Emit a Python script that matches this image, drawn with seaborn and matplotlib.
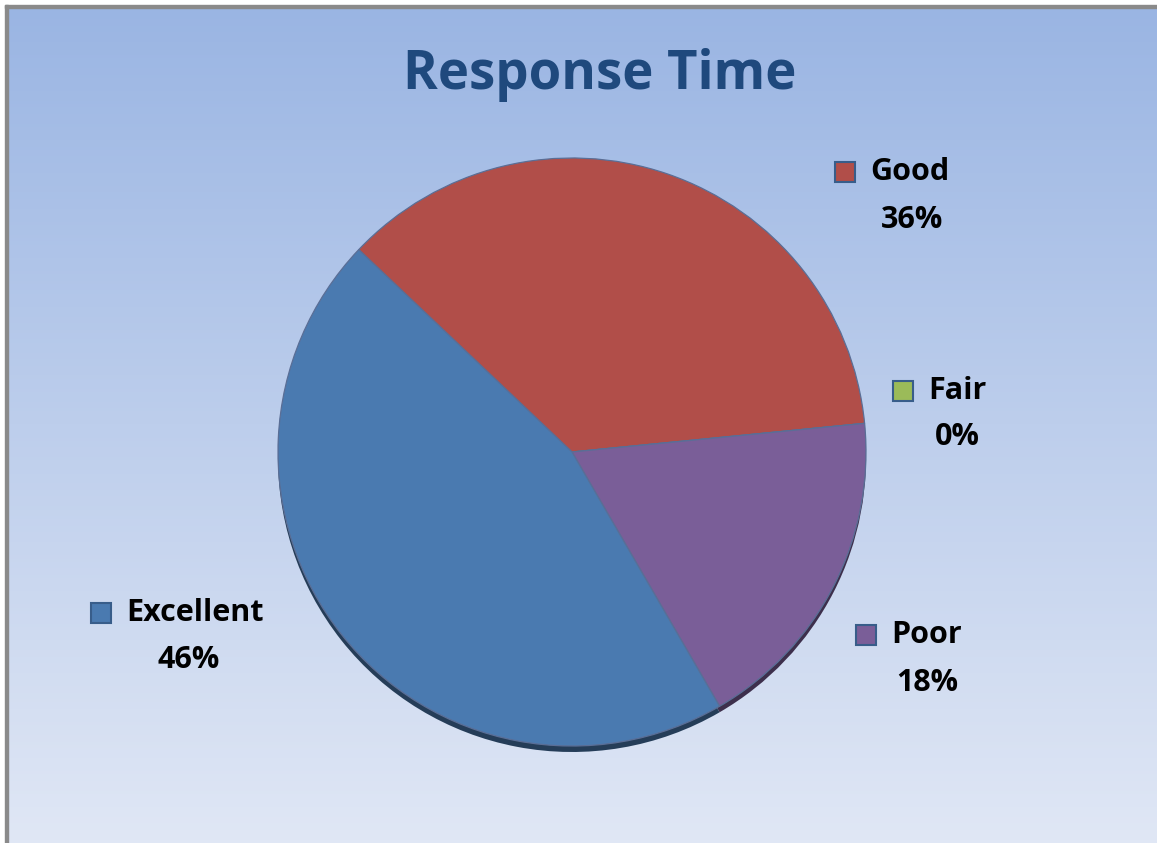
import numpy as np
import matplotlib.pyplot as plt
import matplotlib.colors as mcolors
from matplotlib.patches import Rectangle
import seaborn as sns

categories = ['Good', 'Fair', 'Poor', 'Excellent']
values = [36.4, 0, 18.2, 45.5]
pct_labels = ['36%', '0%', '18%', '46%']
colors = ['#B14E49', '#9BBB59', '#7A5E98', '#4A7AB0']

sns.set_style('white')
plt.rcParams['font.family'] = ['Open Sans', 'DejaVu Sans']

W, H = 1157, 843
fig = plt.figure(figsize=(W / 100, H / 100), dpi=100)
ax = fig.add_axes([0, 0, 1, 1])

# gradient background
top = np.array(mcolors.to_rgb('#9AB5E3'))
bot = np.array(mcolors.to_rgb('#E0E7F5'))
t = np.linspace(0, 1, 256)[:, None]
grad = (top * (1 - t) + bot * t)[:, None, :]
ax.imshow(grad, extent=[7, W, 0, H - 6], aspect='auto', zorder=0)
ax.add_patch(Rectangle((5, 0), 3, H - 5, color='#8A8A8A', zorder=1))
ax.add_patch(Rectangle((5, H - 8), W, 3, color='#8A8A8A', zorder=1))

cx, cy, r = 572, H - 452, 294

# dark rim underneath for a bit of depth
dark = [tuple(np.array(mcolors.to_rgb(c)) * 0.5) for c in colors]
ax.pie(values, colors=dark, startangle=136.5, counterclock=False,
       center=(cx, cy - 6), radius=r, frame=True,
       wedgeprops=dict(linewidth=0, zorder=2))
wedges, _ = ax.pie(values, colors=colors, startangle=136.5, counterclock=False,
                   center=(cx, cy), radius=r, frame=True,
                   wedgeprops=dict(linewidth=0.9, edgecolor='#5a6e96', zorder=3))
ax.set_xlim(0, W)
ax.set_ylim(0, H)
ax.axis('off')

# label layout: (square x, name y, percent x, percent y)
label_pos = {
    'Good': (845, 172, 912, 220),
    'Fair': (903, 391, 957, 437),
    'Poor': (866, 635, 927, 683),
    'Excellent': (101, 613, 189, 660),
}
for name, pct, col in zip(categories, pct_labels, colors):
    sx, ny, px, py = label_pos[name]
    ax.add_patch(Rectangle((sx - 10, H - ny - 10), 20, 20, facecolor=col,
                           edgecolor='#385D8A', linewidth=1.5, zorder=5))
    ax.text(sx + 25, H - ny, name, fontsize=22, fontweight='bold',
            ha='left', va='center', color='black', zorder=5)
    ax.text(px, H - py, pct, fontsize=22, fontweight='bold',
            ha='center', va='center', color='black', zorder=5)

ax.text(600, H - 75, 'Response Time', fontsize=38, fontweight='bold',
        ha='center', va='center', color='#1F497D', zorder=5)

fig.savefig('out.png', dpi=100)
